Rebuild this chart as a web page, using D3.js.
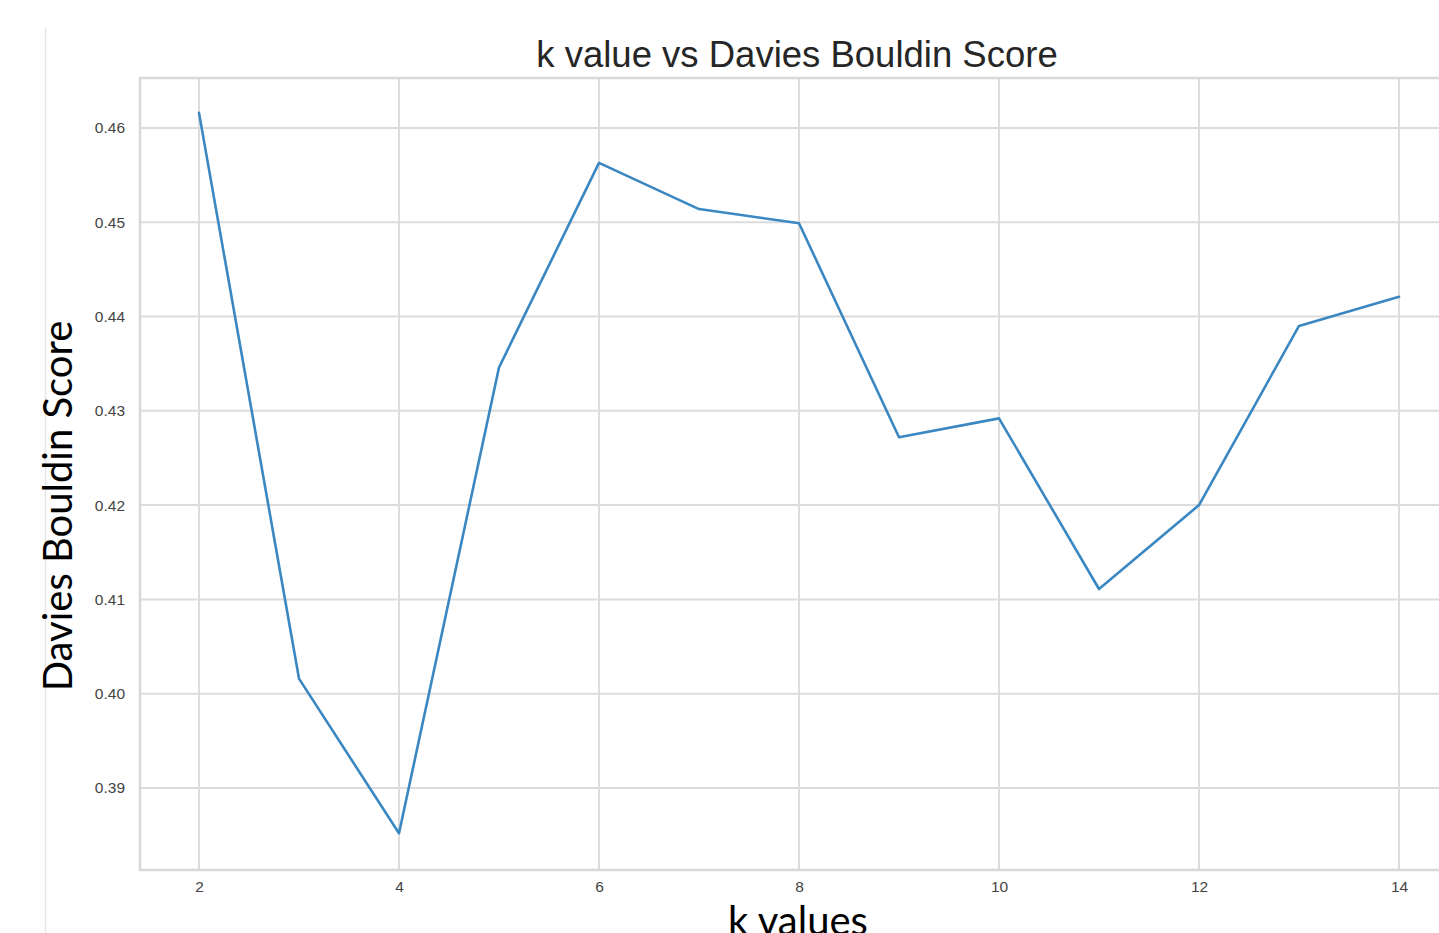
<!DOCTYPE html>
<html>
<head>
<meta charset="utf-8">
<script src="https://cdn.jsdelivr.net/npm/d3@7"></script>
<style>
  html, body { margin: 0; padding: 0; background: #fff; overflow: hidden; }
  svg { display: block; }
</style>
</head>
<body>
<svg id="chart" width="1439" height="933"></svg>
<script>
const kValues = [2, 3, 4, 5, 6, 7, 8, 9, 10, 11, 12, 13, 14];
const dbScores = [0.4616, 0.4016, 0.3852, 0.4346, 0.4563, 0.4514, 0.4499, 0.4272, 0.4292, 0.4111, 0.4200, 0.4390, 0.4421];
const xTicks = [2, 4, 6, 8, 10, 12, 14];
const yTicks = [0.39, 0.40, 0.41, 0.42, 0.43, 0.44, 0.45, 0.46];
const titleText = "k value vs Davies Bouldin Score";
const xLabelText = "k values";
const yLabelText = "Davies Bouldin Score";

const svg = d3.select("#chart");
const pLeft = 140, pRight = 1458, pTop = 78, pBottom = 870;

const x = d3.scaleLinear().domain([1.41, 14.59]).range([pLeft, pRight]);
const y = d3.scaleLinear().domain([0.3813, 0.4653]).range([pBottom, pTop]);

// stray vertical line at left
svg.append("line").attr("x1", 45.5).attr("x2", 45.5).attr("y1", 28).attr("y2", 933)
  .attr("stroke", "#e6e6e6").attr("stroke-width", 1.5);

// grid
const g = svg.append("g");
g.selectAll("line.vg").data(xTicks).join("line").attr("class", "vg")
  .attr("x1", d => x(d)).attr("x2", d => x(d)).attr("y1", pTop).attr("y2", pBottom)
  .attr("stroke", "#dcdcdc").attr("stroke-width", 2);
g.selectAll("line.hg").data(yTicks).join("line").attr("class", "hg")
  .attr("x1", pLeft).attr("x2", pRight).attr("y1", d => y(d)).attr("y2", d => y(d))
  .attr("stroke", "#dcdcdc").attr("stroke-width", 2);

// frame
svg.append("rect").attr("x", pLeft).attr("y", pTop).attr("width", pRight - pLeft).attr("height", pBottom - pTop)
  .attr("fill", "none").attr("stroke", "#d8d8d8").attr("stroke-width", 2.5);

// axes via d3
const xAxis = d3.axisBottom(x).tickValues(xTicks).tickSize(0).tickPadding(11).tickFormat(d3.format("d"));
const yAxis = d3.axisLeft(y).tickValues(yTicks).tickSize(0).tickPadding(15).tickFormat(d3.format(".2f"));
const xg = svg.append("g").attr("transform", `translate(0,${pBottom})`).call(xAxis);
const yg = svg.append("g").attr("transform", `translate(${pLeft},0)`).call(yAxis);
[xg, yg].forEach(a => {
  a.select(".domain").remove();
  a.selectAll("text").attr("fill", "#444").style("font-family", "'Liberation Sans', Arial, sans-serif").style("font-size", "15.5px");
});

// line
const line = d3.line().x((d, i) => x(kValues[i])).y(d => y(d));
svg.append("path").datum(dbScores).attr("d", line)
  .attr("fill", "none").attr("stroke", "#3a87c1").attr("stroke-width", 2.6)
  .attr("stroke-linejoin", "round").attr("stroke-linecap", "round");

// title
svg.append("text").attr("x", 797).attr("y", 67).attr("text-anchor", "middle")
  .style("font-family", "'Liberation Sans', Arial, sans-serif").style("font-size", "36.5px")
  .attr("fill", "#262626").text(titleText);

// x label
svg.append("text").attr("x", 798).attr("y", 935).attr("text-anchor", "middle")
  .style("font-family", "Lato, 'Open Sans', sans-serif").style("font-size", "40px")
  .attr("fill", "#000").text(xLabelText);

// y label
svg.append("text").attr("transform", "translate(72,506) rotate(-90)").attr("text-anchor", "middle")
  .style("font-family", "Lato, 'Open Sans', sans-serif").style("font-size", "40px")
  .attr("fill", "#000").text(yLabelText);
</script>
</body>
</html>
